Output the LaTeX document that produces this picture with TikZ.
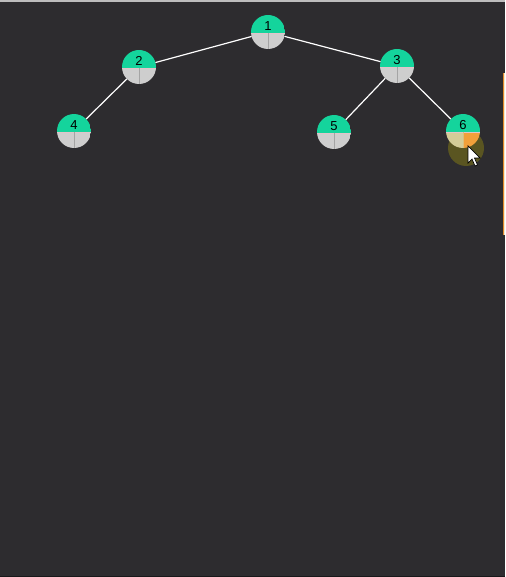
\documentclass[tikz,border=0pt]{standalone}
\usepackage{fontspec}
\setmainfont{Liberation Sans}
\definecolor{bg}{HTML}{2D2C2F}
\definecolor{topline}{HTML}{BDBDBD}
\definecolor{botline}{HTML}{18181A}
\definecolor{ngreen}{HTML}{14D49C}
\definecolor{ngray}{HTML}{CECECE}
\definecolor{divline}{HTML}{E2C4CA}
\definecolor{vline}{HTML}{A4A4A4}
\definecolor{paleq}{HTML}{D4CC98}
\definecolor{orangeq}{HTML}{F2A03A}
\definecolor{hl}{HTML}{5A5521}
\definecolor{cream}{HTML}{F3E9CF}
\definecolor{stripedge}{HTML}{E08A2A}
\tikzset{
  tnode/.style n args={3}{circle, minimum size=34pt, inner sep=0pt, outer sep=0pt,
    font=\fontsize{13}{13}\selectfont, text=black,
    path picture={
      \fill[ngreen] (path picture bounding box.north west) rectangle ([yshift=-1pt]path picture bounding box.east);
      \fill[#1] ([yshift=-1pt]path picture bounding box.west) rectangle (path picture bounding box.south);
      \fill[#2] ([yshift=-1pt]path picture bounding box.center) rectangle (path picture bounding box.south east);
      \draw[divline, line width=0.8pt] ([yshift=-1pt]path picture bounding box.west) -- ([yshift=-1pt]path picture bounding box.east);
      \draw[#3, line width=0.9pt] ([yshift=-1pt]path picture bounding box.center) -- (path picture bounding box.south);
    }},
  plainnode/.style={tnode={ngray}{ngray}{vline}},
  hotnode/.style={tnode={paleq}{orangeq}{paleq!70!orangeq}},
  edge/.style={draw=white, line width=1.2pt},
}
\newcommand{\nlab}[1]{\raisebox{1.5pt}[0pt][0pt]{#1}}
\begin{document}
\begin{tikzpicture}[x=1pt,y=-1pt]
\useasboundingbox (0,0) rectangle (505,577);
\fill[bg] (0,0) rectangle (505,577);
\fill[topline] (0,0) rectangle (505,2);
\fill[botline] (0,575.5) rectangle (505,577);
\fill[cream] (503,73) rectangle (505,235);
\draw[stripedge, line width=0.7pt] (503.4,73) -- (503.4,235);
% highlight behind node 6
\fill[hl] (466,148) circle [radius=18pt];
% nodes
\node[plainnode] (n1) at (268,32) {\nlab{1}};
\node[plainnode] (n2) at (139,67) {\nlab{2}};
\node[plainnode] (n3) at (397,66) {\nlab{3}};
\node[plainnode] (n4) at (74,131) {\nlab{4}};
\node[plainnode] (n5) at (334,132) {\nlab{5}};
\node[hotnode] (n6) at (463,131) {\nlab{6}};
% edges
\draw[edge] (n1) -- (n2);
\draw[edge] (n1) -- (n3);
\draw[edge] (n2) -- (n4);
\draw[edge] (n3) -- (n5);
\draw[edge] (n3) -- (n6);
% mouse cursor
\filldraw[fill=white, draw=black, line width=0.7pt, line join=miter]
  (468,146) -- ++(0,17) -- ++(4,-4) -- ++(3,7) -- ++(2.5,-1) -- ++(-3,-7) -- ++(5.5,0) -- cycle;
\end{tikzpicture}
\end{document}
